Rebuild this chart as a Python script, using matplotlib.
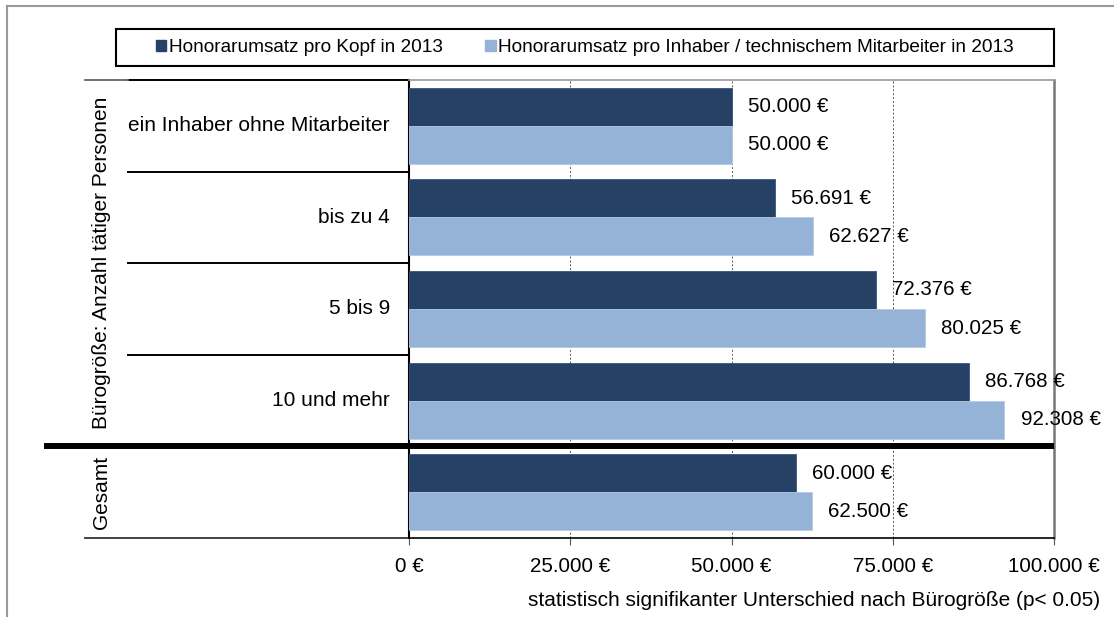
# Honorarumsatz nach Bürogröße - horizontal grouped bar chart
import matplotlib.pyplot as plt
import matplotlib.transforms as mtransforms
from matplotlib.lines import Line2D
from matplotlib.patches import Rectangle
import numpy as np

plt.rcParams['font.family'] = ['Liberation Sans', 'DejaVu Sans']

categories = ['ein Inhaber ohne Mitarbeiter', 'bis zu 4', '5 bis 9', '10 und mehr', '']
kopf = [50000, 56691, 72376, 86768, 60000]
inhaber = [50000, 62627, 80025, 92308, 62500]
series_names = ['Honorarumsatz pro Kopf in 2013',
                'Honorarumsatz pro Inhaber / technischem Mitarbeiter in 2013']
xticks = [0, 25000, 50000, 75000, 100000]
group_labels = ['Bürogröße: Anzahl tätiger Personen', 'Gesamt']
note = 'statistisch signifikanter Unterschied nach Bürogröße (p< 0.05)'

dark = '#264166'
light = '#95b3d7'
FS = 15          # category labels, note
FS_NUM = 14.8    # ticks and value labels
FS_LEG = 13.7
W, H = 1114, 617


def eur(v):
    return f"{v:,.0f} €".replace(',', '.')


fig = plt.figure(figsize=(W / 100, H / 100), dpi=100)
L, R, T, B = 409, 1054, 80, 538
ax = fig.add_axes([L / W, 1 - B / H, (R - L) / W, (B - T) / H])

y = np.arange(len(categories))
bh = 0.415
ax.barh(y - bh / 2, kopf, height=bh, color=dark, edgecolor='#3a5478', linewidth=0.6, zorder=3)
ax.barh(y + bh / 2, inhaber, height=bh, color=light, edgecolor='#b5c9e3', linewidth=0.6, zorder=3)

for i in range(len(categories)):
    ax.text(kopf[i] + 2500, y[i] - bh / 2, eur(kopf[i]), va='center', ha='left', fontsize=FS_NUM, zorder=4)
    ax.text(inhaber[i] + 2500, y[i] + bh / 2, eur(inhaber[i]), va='center', ha='left', fontsize=FS_NUM, zorder=4)

ax.set_xlim(0, 100000)
ax.set_ylim(len(categories) - 0.5, -0.5)
ax.set_xticks(xticks)
ax.set_xticklabels([eur(v) for v in xticks], fontsize=FS_NUM)
ax.tick_params(axis='x', direction='out', length=5, width=0.8, pad=9, color='#555555')
ax.set_yticks([])
for v in xticks[1:-1]:
    ax.axvline(v, color='#555555', linestyle=(0, (2, 2)), linewidth=0.7, zorder=1)

ax.spines['left'].set_linewidth(1.5)
ax.spines['bottom'].set_linewidth(1.2)
ax.spines['top'].set_color('#999999')
ax.spines['top'].set_linewidth(1.2)
ax.spines['right'].set_color('#777777')
ax.spines['right'].set_linewidth(1.8)


def axx(px):
    return (px - L) / (R - L)


tr = mtransforms.blended_transform_factory(ax.transAxes, ax.transData)
# category separators on the left
for b in [-0.5, 0.5, 1.5, 2.5]:
    ax.plot([axx(128), 0], [b, b], color='black', lw=1.4, transform=tr, clip_on=False)
ax.plot([axx(85), axx(128)], [-0.5, -0.5], color='#666666', lw=1.3, transform=tr, clip_on=False)
ax.plot([axx(85), 0], [4.5, 4.5], color='#333333', lw=1.3, transform=tr, clip_on=False)
# thick line separating the total
ax.plot([axx(44), 1], [3.5, 3.5], color='black', lw=4.3, transform=tr, clip_on=False, zorder=5,
        solid_capstyle='butt')

for i, c in enumerate(categories):
    if c:
        ax.text(axx(390), y[i], c, ha='right', va='center', fontsize=FS, transform=tr)

ax.text(axx(102), 1.5, group_labels[0], rotation=90, ha='center', va='center', fontsize=FS, transform=tr)
ax.text(axx(102), 4.0, group_labels[1], rotation=90, ha='center', va='center', fontsize=FS, transform=tr)

# legend with a manual frame
fig.add_artist(Rectangle((116 / W, 1 - 66 / H), (1054 - 116) / W, 37 / H, transform=fig.transFigure,
                         facecolor='white', edgecolor='black', linewidth=1.5))
handles = [Rectangle((0, 0), 1, 1, color=dark), Rectangle((0, 0), 1, 1, color=light)]
fig.legend(handles, series_names, loc='center', bbox_to_anchor=((116 + 1054) / 2 / W, 1 - 47.5 / H),
           ncol=2, frameon=False, fontsize=FS_LEG, handlelength=0.55, handleheight=0.55,
           handletextpad=0.15, columnspacing=2.2)

fig.text(1100 / W, 1 - 600 / H, note, ha='right', va='center', fontsize=FS)

# outer border (top and left)
fig.add_artist(Line2D([7 / W, 7 / W], [0, 1 - 6 / H], color='#999999', lw=1.5))
fig.add_artist(Line2D([7 / W, 1], [1 - 6 / H, 1 - 6 / H], color='#999999', lw=1.5))

fig.savefig('out.png', dpi=100)
